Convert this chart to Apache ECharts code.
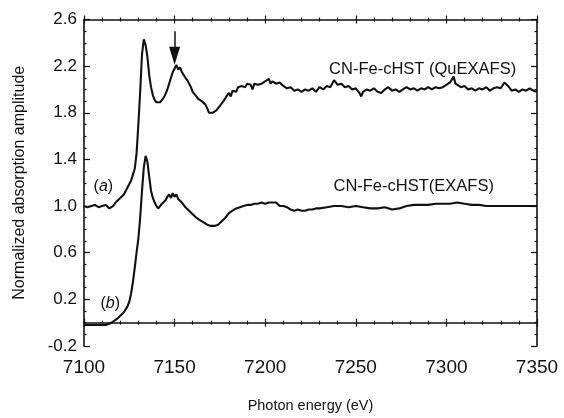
<!DOCTYPE html>
<html>
<head>
<meta charset="utf-8">
<script src="https://cdn.jsdelivr.net/npm/echarts@6/dist/echarts.min.js"></script>
<style>
html,body{margin:0;padding:0;background:#fff;}
#chart{width:564px;height:418px;}
</style>
</head>
<body>
<div id="chart"></div>
<script>
// ---- data ----
const energyA = [7100,7102,7104,7106,7108,7110,7112,7114,7116,7118,7120,7122,7124,7126,7127,7128,7129,7130,7131,7132,7133,7134,7135,7136,7137,7138,7139,7140,7141,7142,7143,7144,7145,7146,7147,7148,7149,7150,7151,7152,7153,7154,7155,7156,7157,7158,7159,7160,7161,7162,7163,7164,7165,7166,7167,7168,7169,7170,7171,7172,7173,7174,7175,7176,7177,7178,7179,7180,7181,7182,7183,7184,7185,7186,7187,7188,7189,7190,7192,7193,7194,7195,7196,7198,7200,7202,7203,7204,7206,7208,7210,7212,7214,7216,7218,7220,7222,7224,7226,7228,7230,7232,7234,7236,7238,7240,7242,7244,7246,7248,7250,7252,7253,7254,7256,7258,7260,7262,7264,7266,7268,7270,7272,7274,7276,7278,7280,7282,7284,7286,7288,7290,7292,7294,7296,7298,7300,7302,7304,7305,7306,7308,7310,7312,7314,7316,7318,7320,7322,7324,7326,7328,7330,7332,7334,7336,7338,7340,7342,7344,7346,7348,7350];
const quexafs = [1.00,0.99,1.00,1.01,0.99,1.00,1.01,0.98,1.00,1.04,1.07,1.10,1.16,1.22,1.27,1.32,1.45,1.70,1.98,2.30,2.43,2.38,2.28,2.12,2.02,1.95,1.91,1.89,1.88,1.89,1.90,1.93,1.96,2.00,2.05,2.10,2.15,2.18,2.21,2.17,2.19,2.15,2.14,2.10,2.08,2.07,2.02,1.98,1.96,1.94,1.92,1.93,1.90,1.89,1.87,1.84,1.80,1.79,1.80,1.81,1.82,1.84,1.86,1.88,1.90,1.91,1.95,1.97,1.94,1.99,2.00,1.98,2.02,2.01,2.03,2.04,2.02,2.05,2.04,2.00,2.05,2.06,2.04,2.05,2.07,2.09,2.05,2.07,2.05,2.06,2.03,2.01,2.02,1.99,2.00,1.98,2.00,1.99,2.01,1.98,2.02,2.00,2.03,2.02,2.08,2.04,2.05,2.02,2.03,2.00,2.01,1.97,1.94,1.98,2.00,1.99,2.01,1.98,1.97,2.00,2.02,1.99,2.00,1.98,2.00,2.02,2.00,2.01,1.99,2.01,2.00,2.02,2.00,2.02,2.01,2.02,2.04,2.06,2.11,2.05,2.06,2.02,2.03,2.00,2.01,1.99,2.01,2.00,2.02,1.99,2.01,2.02,2.01,2.06,2.03,1.99,2.00,1.98,2.00,1.99,2.01,1.99,1.98];

const energyB = [7100,7104,7108,7112,7114,7116,7118,7120,7122,7124,7125,7126,7127,7128,7129,7130,7131,7132,7133,7134,7135,7136,7137,7138,7139,7140,7141,7142,7143,7144,7145,7146,7147,7148,7149,7150,7151,7152,7153,7154,7155,7156,7158,7160,7162,7164,7166,7168,7170,7172,7174,7176,7178,7180,7182,7184,7186,7188,7190,7192,7194,7196,7198,7200,7202,7204,7206,7208,7210,7212,7214,7216,7218,7220,7222,7224,7226,7228,7230,7234,7238,7242,7246,7250,7254,7258,7262,7266,7270,7274,7278,7282,7286,7290,7294,7298,7302,7306,7310,7314,7318,7322,7326,7330,7334,7338,7342,7346,7350];
const exafs = [-0.02,-0.02,-0.02,-0.02,-0.01,0.01,0.03,0.06,0.09,0.14,0.18,0.25,0.35,0.47,0.60,0.72,0.90,1.13,1.33,1.43,1.38,1.25,1.13,1.07,1.03,1.00,0.98,0.99,1.02,1.03,1.05,1.08,1.10,1.07,1.11,1.08,1.10,1.06,1.05,1.03,1.01,0.99,0.96,0.93,0.90,0.88,0.86,0.84,0.83,0.83,0.84,0.87,0.90,0.94,0.96,0.98,0.99,1.00,1.01,1.01,1.02,1.02,1.03,1.02,1.03,1.03,1.03,1.00,1.00,0.99,0.97,0.96,0.97,0.96,0.96,0.97,0.97,0.98,0.98,0.99,1.00,1.00,0.99,1.00,0.99,0.98,0.98,0.99,0.97,0.98,1.00,1.01,1.01,1.01,1.02,1.02,1.02,1.03,1.02,1.01,1.01,1.00,1.00,1.00,1.00,1.00,1.00,1.00,1.00];

const xTicks = [7100, 7350, 50];       // min, max, interval
const yTicks = [-0.2, 2.6, 0.4];       // min, max, interval
const labelQu = 'CN-Fe-cHST (QuEXAFS)';
const labelEx = 'CN-Fe-cHST(EXAFS)';
const arrowAt = [7150, 2.50, 2.29];    // energy, start, end (arrow)

// ---- chart ----
const font = 'Liberation Sans, Arial, Helvetica, sans-serif';
const ink = '#111';
const pairsA = energyA.map((e, i) => [e, quexafs[i]]);
const pairsB = energyB.map((e, i) => [e, exafs[i]]);

function xAx(pos, inside, main) {
  return {
    type: 'value', position: pos, min: xTicks[0], max: xTicks[1], interval: xTicks[2],
    axisLine: { show: main, lineStyle: { color: ink, width: 1.6 } },
    axisTick: { show: true, inside: inside, length: 4, lineStyle: { color: ink, width: 1.2 } },
    minorTick: { show: true, splitNumber: 5, length: 2, lineStyle: { color: ink, width: 1.2 } },
    splitLine: { show: false }, minorSplitLine: { show: false },
    axisLabel: { show: false }
  };
}
function yAx(pos) {
  return {
    type: 'value', position: pos, min: yTicks[0], max: yTicks[1], interval: yTicks[2],
    axisLine: { show: true, lineStyle: { color: ink, width: 1.6 } },
    axisTick: { show: true, inside: true, length: 6, lineStyle: { color: ink, width: 1.2 } },
    minorTick: { show: true, splitNumber: 4, length: 2.5, lineStyle: { color: ink, width: 1.2 } },
    splitLine: { show: false }, minorSplitLine: { show: false },
    axisLabel: { show: false }
  };
}

const xMain = xAx('bottom', true, true);
xMain.axisLabel = { show: true, color: ink, fontFamily: font, fontSize: 19, margin: 12, formatter: v => String(v) };
xMain.name = 'Photon energy (eV)';
xMain.nameLocation = 'middle';
xMain.nameGap = 52;
xMain.nameTextStyle = { color: ink, fontFamily: font, fontSize: 14.5 };

const yMain = yAx('left');
yMain.axisLabel = { show: true, color: ink, fontFamily: font, fontSize: 17, margin: 7, formatter: v => v.toFixed(1) };
yMain.name = 'Normalized absorption amplitude';
yMain.nameLocation = 'middle';
yMain.nameGap = 56;
yMain.nameTextStyle = { color: ink, fontFamily: font, fontSize: 16 };

const textLabel = (sz) => ({
  show: true, position: 'right', distance: 0, color: ink, fontFamily: font, fontSize: sz,
  formatter: p => p.name,
  rich: { i: { fontStyle: 'italic', fontFamily: font, fontSize: sz, color: ink } }
});

const chart = echarts.init(document.getElementById('chart'), null, { renderer: 'canvas' });
chart.setOption({
  animation: false,
  backgroundColor: '#fff',
  grid: { left: 84, right: 27, top: 19.5, bottom: 66 },
  xAxis: [xMain, xAx('bottom', false, false), xAx('top', true, true), xAx('top', false, false)],
  yAxis: [yMain, yAx('right')],
  series: [
    {
      name: 'QuEXAFS', type: 'line', xAxisIndex: 0, yAxisIndex: 0, data: pairsA,
      showSymbol: false, symbol: 'none',
      lineStyle: { color: ink, width: 2.1 },
      markLine: {
        silent: true, symbol: ['none', 'triangle'], symbolSize: 14,
        lineStyle: { color: ink, width: 1.5, type: 'solid' }, label: { show: false },
        data: [[
          { coord: [arrowAt[0], arrowAt[1]], symbol: 'none' },
          { coord: [arrowAt[0], arrowAt[2]], symbol: 'triangle', symbolSize: [11, 18] }
        ]]
      },
      markPoint: {
        silent: true, symbol: 'circle', symbolSize: 1, itemStyle: { color: 'rgba(0,0,0,0)' },
        data: [
          { name: labelQu, coord: [7235, 2.175], label: textLabel(16.5) },
          { name: labelEx, coord: [7237.4, 1.164], label: textLabel(16.5) },
          { name: '(a)', coord: [7105, 1.164], label: Object.assign(textLabel(16), { formatter: '({i|a})' }) },
          { name: '(b)', coord: [7108.8, 0.162], label: Object.assign(textLabel(16), { formatter: '({i|b})' }) }
        ]
      }
    },
    {
      name: 'EXAFS', type: 'line', xAxisIndex: 0, yAxisIndex: 0, data: pairsB,
      showSymbol: false, symbol: 'none',
      lineStyle: { color: ink, width: 2.1 }
    }
  ]
});
</script>
</body>
</html>
